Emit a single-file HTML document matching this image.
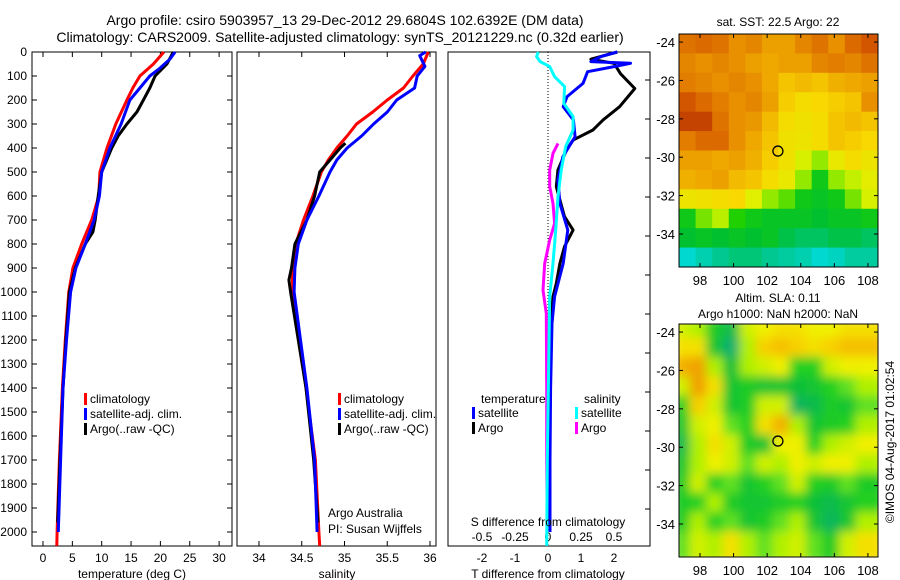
<!DOCTYPE html>
<html><head><meta charset="utf-8"><style>
html,body{margin:0;padding:0;background:#fff;}
svg{display:block;font-family:"Liberation Sans",sans-serif;}
text{fill:#000;}
</style></head><body>
<svg id="fig" width="900" height="580" viewBox="0 0 900 580">
<text x="345" y="25" font-size="14" text-anchor="middle">Argo profile: csiro 5903957_13 29-Dec-2012 29.6804S 102.6392E (DM data)</text>
<text x="340" y="42" font-size="14" text-anchor="middle">Climatology: CARS2009. Satellite-adjusted climatology: synTS_20121229.nc (0.32d earlier)</text>
<g id="g"></g>
</svg>
<script>
// ---------- data ----------
const tClimDepth=[0,50,100,150,200,300,400,500,600,700,800,900,1000,1200,1400,1700,2000,2058];
const tClimVal=[20.6,18.8,16.5,15.3,14.3,12.4,10.9,9.7,9.5,8.3,6.6,5.1,4.4,3.8,3.3,2.8,2.4,2.35];
const tSatDepth=[0,30,70,100,150,200,300,400,500,600,700,800,900,1000,1200,1400,1700,2000];
const tSatVal=[22.5,21.6,19.8,18.2,16.5,14.8,13.3,11.4,10.0,9.6,8.7,7.2,5.6,4.7,4.0,3.4,3.0,2.6];
const tArgoDepth=[0,50,100,150,200,250,300,350,400,500,600,700,750,800,900,1000,1200,1400,1700,1960];
const tArgoVal=[22.2,21.1,19.1,18.2,17.1,16.0,14.3,12.8,11.7,10.0,9.4,8.9,8.5,7.2,5.5,4.5,3.9,3.4,2.9,2.5];

const sClimDepth=[0,50,100,150,200,250,300,350,400,450,500,600,700,800,900,950,1000,1400,1700,2000,2058];
const sClimVal=[35.98,35.92,35.8,35.69,35.5,35.33,35.14,35.03,34.91,34.81,34.73,34.63,34.52,34.43,34.40,34.39,34.40,34.55,34.66,34.70,34.71];
const sSatDepth=[0,15,30,60,100,150,200,250,300,350,400,450,500,600,700,800,900,1000,1400,1700,2000];
const sSatVal=[35.95,35.88,35.9,35.94,35.85,35.82,35.61,35.5,35.34,35.2,35.03,34.91,34.83,34.70,34.56,34.46,34.42,34.41,34.56,34.65,34.68];
const sArgoDepth=[380,400,450,500,600,700,800,900,950,1000,1400,1700,1960];
const sArgoVal=[35.01,34.95,34.83,34.71,34.65,34.56,34.42,34.38,34.35,34.37,34.55,34.64,34.69];

const dTSatDepth=[0,19,40,47,61,82,131,186,228,283,353,436,533,631,742,881,1019,1131,1400,1700,2000];
const dTSatVal=[2.1,1.6,1.3,2.5,2.0,1.2,1.06,0.58,0.46,0.77,0.82,0.45,0.3,0.36,0.6,0.46,0.2,0.12,0.08,0.06,0.06];
const dTArgoDepth=[0,30,47,91,152,228,283,325,367,408,492,561,686,742,811,881,964,1019,1103,1400,1700,1960];
const dTArgoVal=[2.1,1.3,2.0,2.2,2.63,2.17,1.67,1.36,0.76,0.56,0.3,0.25,0.5,0.76,0.5,0.36,0.25,0.15,0.1,0.06,0.05,0.04];
const dSSatDepth=[0,19,40,61,103,144,214,269,325,394,492,603,742,881,1019,1300,1700,2058];
const dSSatVal=[-0.073,-0.086,-0.06,0.013,0.05,0.126,0.12,0.19,0.19,0.134,0.1,0.076,0.058,0.038,0.013,0.005,-0.005,-0.01];
const dSArgoDepth=[381,422,492,561,631,714,783,881,992,1089,1400,1700,1960];
const dSArgoVal=[0.076,0.038,0.013,0.013,0.038,0.05,0.013,-0.025,-0.038,-0.013,-0.01,-0.01,-0.005];

const depthTicks=[0,100,200,300,400,500,600,700,800,900,1000,1100,1200,1300,1400,1500,1600,1700,1800,1900,2000];
const tempTicks=[0,5,10,15,20,25,30];
const salTicks=[34,34.5,35,35.5,36];
const salTickLabels=["34","34.5","35","35.5","36"];
const dTTicks=[-2,-1,0,1,2];
const dSTicks=[-0.5,-0.25,0,0.25,0.5];
const dSTickLabels=["-0.5","-0.25","0","0.25","0.5"];

const mapLonTicks=[98,100,102,104,106,108];
const mapLatTicks=[-24,-26,-28,-30,-32,-34];
const argoLon=102.64, argoLat=-29.68;
const sstGrid=[
[23.5,23.6,23.5,23.2,23.3,23.0,23.0,23.3,23.5,23.2,23.6,23.8],
[23.3,23.2,23.3,23.2,23.0,22.9,23.0,23.0,23.3,23.4,23.3,23.5],
[23.4,23.3,23.2,23.3,23.2,22.9,22.6,22.7,22.6,22.8,22.9,23.0],
[23.8,23.6,23.4,23.2,23.3,23.0,22.5,22.3,22.4,22.5,22.6,23.2],
[24.0,24.0,23.5,23.2,23.1,22.7,22.3,22.2,22.3,22.6,22.7,22.6],
[23.4,23.6,23.6,23.2,22.9,22.6,22.2,22.1,22.3,22.6,22.5,22.4],
[23.0,23.0,22.9,23.0,22.8,22.5,22.2,21.7,21.2,22.0,22.3,22.1],
[22.8,22.9,23.0,22.7,22.6,22.3,22.0,21.2,20.6,21.2,21.5,21.9],
[22.1,22.2,22.3,22.4,21.8,21.2,21.0,20.6,20.5,20.6,21.1,21.7],
[20.6,21.1,21.4,20.8,20.6,20.5,20.5,20.5,20.4,20.5,20.5,20.6],
[20.4,20.5,20.4,20.5,20.4,20.5,20.3,20.2,20.2,20.3,20.3,20.2],
[19.6,19.8,20.0,20.1,20.1,20.0,19.9,19.8,19.6,19.7,19.9,19.9]];
const slaGrid=[
[0.2,0.1,-0.2,-0.5,0.2,0.3,0.4,0.4,0.3,0.3,0.4,0.4],
[0.4,0.4,-0.3,-0.7,0.1,0.5,0.6,0.5,0.4,0.5,0.6,0.6],
[0.7,0.8,0.1,-0.4,0.1,0.2,0.3,-0.1,-0.1,0.2,0.3,0.3],
[0.2,0.8,0.4,-0.3,-0.2,-0.3,-0.3,-0.4,-0.3,-0.1,0.0,0.1],
[-0.1,0.5,0.2,-0.3,-0.2,0.2,0.2,-0.6,-0.5,-0.2,-0.3,0.0],
[-0.3,0.2,0.3,0.0,-0.1,0.4,0.7,0.1,-0.3,-0.2,-0.1,0.1],
[-0.5,0.1,0.4,0.2,-0.2,-0.3,0.3,0.3,-0.1,0.1,0.2,0.3],
[-0.3,0.1,0.3,0.2,0.0,0.2,0.1,0.3,0.2,0.3,0.3,0.1],
[-0.2,0.2,-0.1,0.0,-0.3,-0.1,0.0,0.2,-0.1,-0.2,0.0,-0.2],
[-0.2,-0.1,0.1,-0.2,-0.3,-0.3,-0.2,-0.1,-0.4,-0.5,-0.3,-0.1],
[-0.2,0.1,-0.1,0.0,-0.3,-0.2,0.0,0.1,-0.3,-0.6,-0.3,0.1],
[0.0,0.2,0.1,0.4,0.1,0.0,0.1,0.2,0.0,-0.2,0.2,0.4]];

// ---------- helpers ----------
const NS="http://www.w3.org/2000/svg";
const G=document.getElementById('g');
function el(tag,attrs,parent){const e=document.createElementNS(NS,tag);for(const k in attrs)e.setAttribute(k,attrs[k]);(parent||G).appendChild(e);return e;}
function txt(x,y,s,anchor,size){const t=el('text',{x:x,y:y,'font-size':size||12,'text-anchor':anchor||'middle'});t.textContent=s;return t;}
const TOP=52,BOT=546;
const yD=d=>TOP+d*0.24;
const xT=v=>43+v*5.87;
const xS=v=>259+(v-34)*85.5;
const xDT=v=>548+v*33;
const xDS=v=>548+v*132;
function line(depths,vals,xf,color,name){
  const pts=depths.map((d,i)=>xf(vals[i]).toFixed(1)+','+yD(d).toFixed(1)).join(' ');
  const p=el('polyline',{points:pts,fill:'none',stroke:color,'stroke-width':3,'stroke-linejoin':'round'});
  
  
}
function frame(x0,x1,name){
  const r=el('rect',{x:x0,y:TOP,width:x1-x0,height:BOT-TOP,fill:'none',stroke:'#000','stroke-width':1});
  
  
}
// ---------- panel 1: temperature ----------
frame(32,232,'temperature-panel');
depthTicks.forEach(d=>{
  el('line',{x1:32,x2:37,y1:yD(d),y2:yD(d),stroke:'#000'});
  el('line',{x1:227,x2:232,y1:yD(d),y2:yD(d),stroke:'#000'});
  const t=txt(27,yD(d)+4,String(d),'end',12);
  
  
});
tempTicks.forEach(v=>{
  el('line',{x1:xT(v),x2:xT(v),y1:TOP,y2:TOP+5,stroke:'#000'});
  el('line',{x1:xT(v),x2:xT(v),y1:BOT,y2:BOT-5,stroke:'#000'});
  const t=txt(xT(v),562,String(v));
  
  
});
line(tClimDepth,tClimVal,xT,'#ff0000','temp-climatology-line');
line(tArgoDepth,tArgoVal,xT,'#000000','temp-argo-line');
line(tSatDepth,tSatVal,xT,'#0000ff','temp-satellite-line');
let t1=txt(132,578,'temperature (deg C)');
// ---------- panel 2: salinity ----------
frame(237,436,'salinity-panel');
salTicks.forEach((v,i)=>{
  el('line',{x1:xS(v),x2:xS(v),y1:TOP,y2:TOP+5,stroke:'#000'});
  el('line',{x1:xS(v),x2:xS(v),y1:BOT,y2:BOT-5,stroke:'#000'});
  const t=txt(xS(v),562,salTickLabels[i]);
  
  
});
line(sClimDepth,sClimVal,xS,'#ff0000','sal-climatology-line');
line(sArgoDepth,sArgoVal,xS,'#000000','sal-argo-line');
line(sSatDepth,sSatVal,xS,'#0000ff','sal-satellite-line');
let t2=txt(337,578,'salinity');
let a1=txt(328,517,'Argo Australia','start');
let a2=txt(328,533,'PI: Susan Wijffels','start');
// legends
function legend(x,y,items,prefix){
  items.forEach((it,i)=>{
    el('rect',{x:x,y:y+i*15-10,width:3,height:12,fill:it[1]});
    const t=txt(x+6,y+i*15,it[0],'start',12);
    
    
  });
}
legend(84,403,[['climatology','#ff0000'],['satellite-adj. clim.','#0000ff'],['Argo(..raw -QC)','#000000']],'temp');
legend(338,403,[['climatology','#ff0000'],['satellite-adj. clim.','#0000ff'],['Argo(..raw -QC)','#000000']],'sal');
// ---------- panel 3: differences ----------
frame(448,650,'difference-panel');
for(let y=80;y<BOT;y+=39) el('line',{x1:645,x2:650,y1:y,y2:y,stroke:'#000'});
el('line',{x1:548,x2:548,y1:TOP,y2:BOT,stroke:'#000','stroke-dasharray':'1,2'});
dTTicks.forEach(v=>{
  const t=txt(xDT(v),562,String(v));
  
  
});
dSTicks.forEach((v,i)=>{
  const t=txt(xDS(v),541,dSTickLabels[i]);
  
  
});
line(dSArgoDepth,dSArgoVal,xDS,'#ff00ff','s-diff-argo-line');
line(dTArgoDepth,dTArgoVal,xDT,'#000000','t-diff-argo-line');
line(dTSatDepth,dTSatVal,xDT,'#0000ff','t-diff-satellite-line');
line(dSSatDepth,dSSatVal,xDS,'#00ffff','s-diff-satellite-line');
let t3=txt(548,526,'S difference from climatology');
let t4=txt(548,578,'T difference from climatology');
let lt=txt(481,403,'temperature','start');
let ls=txt(584,403,'salinity','start');
legend(472,417,[['satellite','#0000ff'],['Argo','#000000']],'t-diff');
legend(575,417,[['satellite','#00ffff'],['Argo','#ff00ff']],'s-diff');
// ---------- maps ----------
function lerpColor(stops,v){
  if(v>=stops[0][0])return stops[0][1];
  for(let i=1;i<stops.length;i++){
    if(v>=stops[i][0]){
      const a=stops[i-1],b=stops[i],f=(v-b[0])/(a[0]-b[0]);
      const ca=a[1],cb=b[1];
      return [0,1,2].map(k=>Math.round(cb[k]+(ca[k]-cb[k])*f));
    }
  }
  return stops[stops.length-1][1];
}
const sstStops=[[24.2,[184,48,0]],[23.7,[216,96,0]],[23.2,[232,144,0]],[22.8,[240,176,0]],[22.4,[248,216,0]],[21.8,[224,240,0]],[21.3,[176,240,0]],[20.8,[32,208,0]],[20.4,[0,192,48]],[20.0,[0,200,144]],[19.6,[0,216,208]],[19.2,[16,112,255]]];
const slaStops=[[0.8,[240,160,0]],[0.5,[248,208,0]],[0.3,[240,240,0]],[0.1,[176,240,0]],[0.0,[96,224,32]],[-0.1,[32,208,32]],[-0.4,[16,192,56]],[-0.7,[16,176,112]]];
function drawMap(y0,y1,grid,stops,name,blur){
  const x0=679,x1=878;
  const lonA=96.75,lonB=108.6,latA=-23.58,latB=-35.72;
  const xL=v=>x0+(v-lonA)/(lonB-lonA)*(x1-x0);
  const yL=v=>y0+(v-latA)/(latB-latA)*(y1-y0);
  const cp=el('clipPath',{id:'clip'+name});el('rect',{x:x0,y:y0,width:x1-x0,height:y1-y0},cp);
  const g=el('g',{'clip-path':'url(#clip'+name+')'});
  
  
  const inner=el('g',blur?{filter:'url(#blur)'}:{},g);
  const nr=grid.length,nc=grid[0].length;
  const dLon=(lonB-lonA)/nc,dLat=(latB-latA)/nr;
  grid.forEach((row,r)=>row.forEach((v,c)=>{
    const xa=xL(lonA+c*dLon),ya=yL(latA+r*dLat);
    const col=lerpColor(stops,v);
    const cell=el('rect',{x:xa-(blur?6:0),y:ya-(blur?6:0),width:(x1-x0)/nc+0.6+(blur?12:0),height:(y1-y0)/nr+0.6+(blur?12:0),fill:'rgb('+col.join(',')+')'},inner);
    
    
  }));
  el('rect',{x:x0,y:y0,width:x1-x0,height:y1-y0,fill:'none',stroke:'#000'});
  mapLonTicks.forEach(v=>{
    el('line',{x1:xL(v),x2:xL(v),y1:y1,y2:y1-4,stroke:'#000'});
    el('line',{x1:xL(v),x2:xL(v),y1:y0,y2:y0+4,stroke:'#000'});
    const t=txt(xL(v),y1+18,String(v),'middle',13);
    
    
  });
  mapLatTicks.forEach(v=>{
    el('line',{x1:x0,x2:x0+4,y1:yL(v),y2:yL(v),stroke:'#000'});
    el('line',{x1:x1,x2:x1-4,y1:yL(v),y2:yL(v),stroke:'#000'});
    const t=txt(x0-4,yL(v)+5,String(v),'end',13);
    
    
  });
  const m=el('circle',{cx:xL(argoLon),cy:yL(argoLat),r:5,fill:'none',stroke:'#000','stroke-width':1.3});
  
  
}
const defs=el('defs',{});
const f=el('filter',{id:'blur',x:'-10%',y:'-10%',width:'120%',height:'120%'},defs);
el('feGaussianBlur',{stdDeviation:5},f);
drawMap(34,267,sstGrid,sstStops,'sst-map',false);
drawMap(324,557,slaGrid,slaStops,'sla-map',true);
let m1=txt(778,26,'sat. SST: 22.5 Argo: 22','middle',12);
let m2=txt(778,302,'Altim. SLA: 0.11','middle',12);
let m3=txt(778,318,'Argo h1000: NaN h2000: NaN','middle',12);
let cr=txt(0,0,'©IMOS 04-Aug-2017 01:02:54','middle',12);
cr.setAttribute('transform','translate(894,442) rotate(-90)');


</script>
</body></html>
